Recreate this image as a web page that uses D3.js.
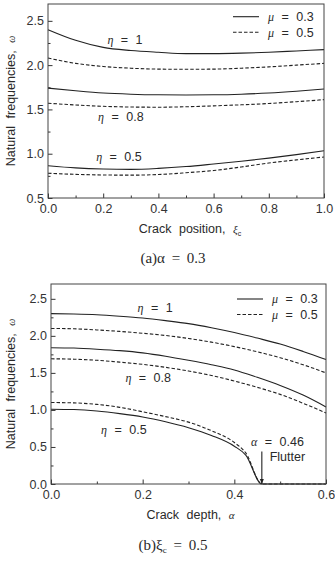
<!DOCTYPE html>
<meta charset="utf-8">
<style>
  body { margin: 0; background: #fff; }
  text { font-family: "Liberation Sans", Arial, sans-serif; fill: #2a2a2a; }
  .greek { font-family: "Liberation Serif", "Times New Roman", serif; font-style: italic; }
  .caption { font-family: "Liberation Serif", "Times New Roman", serif; font-size: 15px; word-spacing: 3px; }
  .axis text { font-size: 12.5px; fill: #333; }
  .axis path { display: none; }
  .axis line { stroke: #333; }
</style>
<svg width="335" height="565"></svg>
<script src="https://cdn.jsdelivr.net/npm/d3@7"></script>
<script>

// ---- panel (a): alpha = 0.3, frequency vs crack position ----
var xiC = [0, 0.1, 0.2, 0.3, 0.4, 0.5, 0.6, 0.7, 0.8, 0.9, 1.0];
var a_eta1_mu3  = [2.40, 2.28, 2.20, 2.165, 2.145, 2.13, 2.13, 2.135, 2.145, 2.16, 2.175];
var a_eta1_mu5  = [2.08, 2.02, 1.985, 1.965, 1.955, 1.953, 1.955, 1.965, 1.98, 2.0, 2.02];
var a_eta8_mu3  = [1.74, 1.71, 1.685, 1.672, 1.665, 1.663, 1.665, 1.672, 1.685, 1.705, 1.73];
var a_eta8_mu5  = [1.57, 1.55, 1.535, 1.527, 1.525, 1.53, 1.54, 1.552, 1.567, 1.587, 1.61];
var a_eta5_mu3  = [0.865, 0.84, 0.827, 0.823, 0.834, 0.855, 0.884, 0.915, 0.95, 0.99, 1.034];
var a_eta5_mu5  = [0.78, 0.767, 0.76, 0.758, 0.765, 0.785, 0.81, 0.85, 0.895, 0.93, 0.963];

// ---- panel (b): xi_c = 0.5, frequency vs crack depth ----
var alpha = [0, 0.05, 0.1, 0.15, 0.2, 0.25, 0.3, 0.35, 0.4, 0.45, 0.5, 0.55, 0.6];
var b_eta1_mu3 = [2.30, 2.295, 2.285, 2.265, 2.24, 2.205, 2.165, 2.11, 2.045, 1.97, 1.89, 1.79, 1.68];
var b_eta1_mu5 = [2.10, 2.095, 2.08, 2.06, 2.035, 2.005, 1.965, 1.915, 1.855, 1.785, 1.705, 1.61, 1.50];
var b_eta8_mu3 = [1.84, 1.835, 1.82, 1.80, 1.77, 1.725, 1.67, 1.61, 1.54, 1.44, 1.33, 1.20, 1.04];
var b_eta8_mu5 = [1.69, 1.685, 1.67, 1.645, 1.615, 1.575, 1.525, 1.465, 1.39, 1.305, 1.21, 1.09, 0.96];
// eta = 0.5 drops to zero at flutter (alpha = 0.46)
var alphaLow = [0, 0.05, 0.1, 0.15, 0.2, 0.25, 0.3, 0.35, 0.4, 0.425, 0.46, 0.5, 0.55, 0.6];
var b_eta5_mu3 = [1.01, 1.005, 0.985, 0.95, 0.905, 0.84, 0.76, 0.655, 0.51, 0.39, 0, 0, 0, 0];
var b_eta5_mu5 = [1.10, 1.095, 1.075, 1.035, 0.975, 0.91, 0.835, 0.72, 0.56, 0.42, 0, 0, 0, 0];
var flutterAlpha = 0.46;

var yTicks = [0, 0.5, 1.0, 1.5, 2.0, 2.5];

var svg = d3.select("svg");
svg.append("rect").attr("width", 335).attr("height", 565).attr("fill", "#fff");

svg.append("defs").append("marker")
    .attr("id", "arrow")
    .attr("viewBox", "0 0 10 10")
    .attr("refX", 10).attr("refY", 5)
    .attr("markerWidth", 5).attr("markerHeight", 6)
    .attr("orient", "auto")
  .append("path")
    .attr("d", "M0,1L10,5L0,9Z")
    .attr("fill", "#222");

// write "eta = 1" style labels: greek letter italic, rest sans
function mathLabel(g, x, y, sym, rest, anchor) {
  var t = g.append("text")
      .attr("x", x).attr("y", y)
      .attr("dy", "0.35em")
      .attr("text-anchor", anchor || "middle")
      .style("font-size", "12.5px")
      .style("word-spacing", "4px");
  t.append("tspan").attr("class", "greek").style("font-size", "12px").text(sym);
  t.append("tspan").text(" = " + rest);
  return t;
}

function panel(cfg) {
  var g = svg.append("g").attr("transform", "translate(" + cfg.left + "," + cfg.top + ")");
  var x = d3.scaleLinear().domain(cfg.xDomain).range([0, cfg.width]);
  var y = d3.scaleLinear().domain(cfg.yDomain).range([cfg.height, 0]);

  // minor ticks
  g.append("g").attr("class", "axis")
      .attr("transform", "translate(0," + cfg.height + ")")
      .call(d3.axisBottom(x).tickValues(cfg.xMinor).tickSize(-2.5).tickFormat(""));
  g.append("g").attr("class", "axis")
      .call(d3.axisLeft(y).tickValues(cfg.yMinor).tickSize(-2.5).tickFormat(""));

  // major ticks, inward
  g.append("g").attr("class", "axis")
      .attr("transform", "translate(0," + cfg.height + ")")
      .call(d3.axisBottom(x).tickValues(cfg.xTicks).tickSize(-4.5).tickPadding(4).tickFormat(d3.format(".1f")))
      .selectAll("text").attr("dy", "0.85em");
  g.append("g").attr("class", "axis")
      .call(d3.axisLeft(y).tickValues(cfg.yTicks).tickSize(-4.5).tickPadding(4).tickFormat(d3.format(".1f")));

  var line = d3.line()
      .x(function(d) { return x(d[0]); })
      .y(function(d) { return y(d[1]); })
      .curve(d3.curveMonotoneX);

  cfg.series.forEach(function(s) {
    g.append("path")
        .datum(s.xs.map(function(v, i) { return [v, s.ys[i]]; }))
        .attr("fill", "none")
        .attr("stroke", "#222")
        .attr("stroke-width", 1.1)
        .attr("stroke-dasharray", s.dash ? "3.5,2" : null)
        .attr("d", line);
  });

  // frame
  g.append("rect")
      .attr("width", cfg.width).attr("height", cfg.height)
      .attr("fill", "none").attr("stroke", "#444").attr("stroke-width", 1);

  // legend
  var lx = cfg.width - cfg.legendRight;
  [["0.3", false], ["0.5", true]].forEach(function(d, i) {
    var ly = cfg.legendTop + i * 15.5;
    g.append("line")
        .attr("x1", lx).attr("x2", lx + 26)
        .attr("y1", ly).attr("y2", ly)
        .attr("stroke", "#222").attr("stroke-width", 1.1)
        .attr("stroke-dasharray", d[1] ? "3.5,2" : null);
    mathLabel(g, lx + 35, ly, "\u03bc", d[0], "start");
  });

  // eta labels
  cfg.labels.forEach(function(l) {
    mathLabel(g, x(l[0]), y(l[1]), "\u03b7", l[2]);
  });

  // y title
  var yt = g.append("text")
      .attr("transform", "translate(" + (11 - cfg.left) + "," + (cfg.height / 2) + ") rotate(-90)")
      .attr("text-anchor", "middle")
      .attr("dy", "0.35em")
      .style("font-size", "12.5px")
      .style("word-spacing", "4px");
  yt.append("tspan").text("Natural frequencies, ");
  yt.append("tspan").attr("class", "greek").style("font-size", "10px").text("\u03c9");

  // x title
  var xt = g.append("text")
      .attr("x", cfg.width / 2 + cfg.xTitleShift).attr("y", cfg.height + 31)
      .attr("dy", "0.35em")
      .attr("text-anchor", "middle")
      .style("font-size", "12.5px")
      .style("word-spacing", "4px");
  xt.append("tspan").text(cfg.xTitle + " ");
  xt.append("tspan").attr("class", "greek").style("font-size", "11px").text(cfg.xSym);
  if (cfg.xSub) {
    xt.append("tspan").attr("dy", "3").style("font-size", "7px").text(cfg.xSub);
  }

  return { g: g, x: x, y: y };
}

// panel (a)
var pa = panel({
  left: 48, top: 4, width: 276, height: 194,
  xDomain: [0, 1], yDomain: [0.5, 2.69],
  xTicks: [0, 0.2, 0.4, 0.6, 0.8, 1.0],
  xMinor: [0.1, 0.3, 0.5, 0.7, 0.9],
  yTicks: yTicks.slice(1),
  yMinor: [0.75, 1.25, 1.75, 2.25],
  legendRight: 91, legendTop: 12.7,
  xTitle: "Crack position,", xSym: "\u03be", xSub: "c", xTitleShift: 4,
  series: [
    { xs: xiC, ys: a_eta1_mu3 }, { xs: xiC, ys: a_eta1_mu5, dash: true },
    { xs: xiC, ys: a_eta8_mu3 }, { xs: xiC, ys: a_eta8_mu5, dash: true },
    { xs: xiC, ys: a_eta5_mu3 }, { xs: xiC, ys: a_eta5_mu5, dash: true }
  ],
  labels: [[0.279, 2.285, "1"], [0.264, 1.416, "0.8"], [0.257, 0.97, "0.5"]]
});

svg.append("text").attr("class", "caption")
    .attr("x", 173).attr("y", 258).attr("dy", "0.35em")
    .attr("text-anchor", "middle")
    .text("(a)\u03b1 = 0.3");

// panel (b)
var pb = panel({
  left: 51, top: 284, width: 275, height: 200,
  xDomain: [0, 0.6], yDomain: [0, 2.7],
  xTicks: [0, 0.2, 0.4, 0.6],
  xMinor: [0.1, 0.3, 0.5],
  yTicks: yTicks,
  yMinor: [0.25, 0.75, 1.25, 1.75, 2.25],
  legendRight: 89, legendTop: 15,
  xTitle: "Crack depth,", xSym: "\u03b1", xSub: null, xTitleShift: 2,
  series: [
    { xs: alpha, ys: b_eta1_mu3 }, { xs: alpha, ys: b_eta1_mu5, dash: true },
    { xs: alpha, ys: b_eta8_mu3 }, { xs: alpha, ys: b_eta8_mu5, dash: true },
    { xs: alphaLow, ys: b_eta5_mu3 }, { xs: alphaLow, ys: b_eta5_mu5, dash: true }
  ],
  labels: [[0.227, 2.38, "1"], [0.212, 1.44, "0.8"], [0.159, 0.733, "0.5"]]
});

// flutter arrow
pb.g.append("line")
    .attr("x1", pb.x(flutterAlpha)).attr("x2", pb.x(flutterAlpha))
    .attr("y1", pb.y(0.44)).attr("y2", pb.y(0))
    .attr("stroke", "#222").attr("stroke-width", 1.1)
    .attr("marker-end", "url(#arrow)");
mathLabel(pb.g, pb.x(0.494), pb.y(0.575), "\u03b1", "0.46");
pb.g.append("text")
    .attr("x", pb.x(0.477)).attr("y", pb.y(0.372)).attr("dy", "0.35em")
    .style("font-size", "12.5px")
    .text("Flutter");

var capB = svg.append("text").attr("class", "caption")
    .attr("x", 173).attr("y", 545).attr("dy", "0.35em")
    .attr("text-anchor", "middle");
capB.append("tspan").text("(b)\u03be");
capB.append("tspan").attr("dy", "3").style("font-size", "9px").text("c");
capB.append("tspan").attr("dy", "-3").text(" = 0.5");

</script>
